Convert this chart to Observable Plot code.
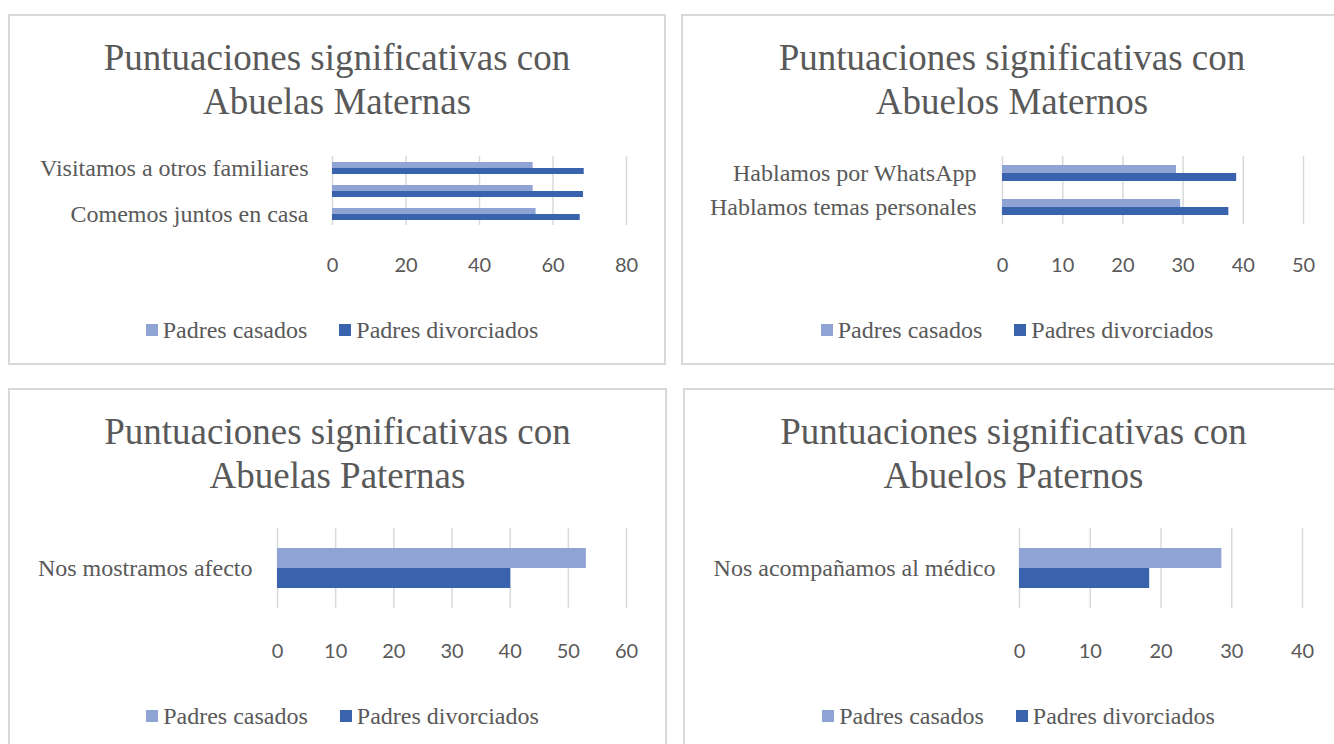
<!DOCTYPE html>
<html>
<head>
<meta charset="utf-8">
<script src="https://cdn.jsdelivr.net/npm/d3@7"></script>
<script src="https://cdn.jsdelivr.net/npm/@observablehq/plot@0.6"></script>
<style>
  html, body { margin: 0; padding: 0; background: #fff; }
  #root { position: relative; width: 1334px; height: 744px; overflow: hidden; background: #fff; }
  .panel { position: absolute; border: 2px solid #d9d9d9; box-sizing: border-box; background: #fff; }
  .title { position: absolute; left: 0; right: 0; text-align: center; font-family: "Liberation Serif", "Times New Roman", serif; font-size: 37px; line-height: 44px; color: #595959; }
  .legend { position: absolute; left: 10px; right: 0; display: flex; justify-content: center; align-items: center; font-family: "Liberation Serif", serif; font-size: 24px; color: #595959; }
  .legend .item { display: flex; align-items: center; margin: 0 16px; }
  .legend .sw { width: 12px; height: 12px; margin-right: 5px; }
  .panel svg { position: absolute; left: 0; overflow: visible; }
</style>
</head>
<body>
<div id="root"></div>
<script>
// ---- data ----
const seriesNames = ["Padres casados", "Padres divorciados"];
const seriesColors = ["#8fa3d5", "#3a63ad"];

const titles1 = ["Puntuaciones significativas con", "Abuelas Maternas"];
const cats1 = ["Visitamos a otros familiares", "", "Comemos juntos en casa"];
const casados1 = [54.6, 54.6, 55.4];
const divorciados1 = [68.5, 68.3, 67.4];
const ticks1 = [0, 20, 40, 60, 80];

const titles2 = ["Puntuaciones significativas con", "Abuelos Maternos"];
const cats2 = ["Hablamos por WhatsApp", "Hablamos temas personales"];
const casados2 = [28.9, 29.6];
const divorciados2 = [38.9, 37.6];
const ticks2 = [0, 10, 20, 30, 40, 50];

const titles3 = ["Puntuaciones significativas con", "Abuelas Paternas"];
const cats3 = ["Nos mostramos afecto"];
const casados3 = [53.1];
const divorciados3 = [40.1];
const ticks3 = [0, 10, 20, 30, 40, 50, 60];

const titles4 = ["Puntuaciones significativas con", "Abuelos Paternos"];
const cats4 = ["Nos acompañamos al médico"];
const casados4 = [28.6];
const divorciados4 = [18.4];
const ticks4 = [0, 10, 20, 30, 40];

// ---- layout (absolute page coords) ----
const layouts = [
  {left: 8,   top: 14,  width: 658, height: 351, x0: 332,  x1: 626,  plotTop: 155, plotBottom: 225, tickY: 264, legendY: 330, titleY: 34, labelPad: 24},
  {left: 681, top: 14,  width: 662, height: 351, x0: 1002, x1: 1303, plotTop: 155, plotBottom: 224, tickY: 264, legendY: 330, titleY: 34, labelPad: 26},
  {left: 8,   top: 388, width: 659, height: 380, x0: 277,  x1: 626,  plotTop: 528, plotBottom: 608, tickY: 650, legendY: 716, titleY: 408, labelPad: 25},
  {left: 683, top: 388, width: 661, height: 380, x0: 1019, x1: 1302, plotTop: 528, plotBottom: 608, tickY: 650, legendY: 716, titleY: 408, labelPad: 24}
];

const panels = [
  {titles: titles1, cats: cats1, vals: [casados1, divorciados1], ticks: ticks1},
  {titles: titles2, cats: cats2, vals: [casados2, divorciados2], ticks: ticks2},
  {titles: titles3, cats: cats3, vals: [casados3, divorciados3], ticks: ticks3},
  {titles: titles4, cats: cats4, vals: [casados4, divorciados4], ticks: ticks4}
];

const root = document.getElementById("root");

panels.forEach((p, i) => {
  const L = layouts[i];
  const div = document.createElement("div");
  div.className = "panel";
  Object.assign(div.style, {left: L.left + "px", top: L.top + "px", width: L.width + "px", height: L.height + "px"});
  root.appendChild(div);

  const t = document.createElement("div");
  t.className = "title";
  t.style.top = (L.titleY - L.top) + "px";
  t.innerHTML = p.titles.map(s => `<div>${s}</div>`).join("");
  div.appendChild(t);

  const data = [];
  p.cats.forEach((c, ci) => {
    seriesNames.forEach((s, si) => data.push({cat: c, series: s, value: p.vals[si][ci]}));
  });

  const marginTop = 5;
  const marginBottom = 60;
  const plotH = L.plotBottom - L.plotTop;
  const svgTop = L.plotTop - marginTop;

  const chart = Plot.plot({
    width: L.width - 4,
    height: plotH + marginTop + marginBottom,
    marginLeft: L.x0 - L.left - 2,
    marginRight: (L.left + L.width - 2) - L.x1,
    marginTop,
    marginBottom,
    style: {background: "transparent", overflow: "visible"},
    x: {domain: [0, p.ticks[p.ticks.length - 1]], axis: null, label: null},
    y: {domain: seriesNames, axis: null, paddingInner: 0, paddingOuter: 0.91},
    fy: {domain: p.cats, axis: null, padding: 0, label: null},
    color: {domain: seriesNames, range: seriesColors},
    marks: [
      Plot.gridX(p.ticks, {stroke: "#d9d9d9", strokeOpacity: 1, strokeWidth: 1.5}),
      Plot.barX(data, {fy: "cat", y: "series", x: "value", fill: "series"}),
      Plot.axisX(p.ticks, {tickSize: 0, tickPadding: L.tickY - L.plotBottom - 7, fontFamily: "Lato, 'Open Sans', sans-serif", fontSize: 20, fill: "#595959", label: null}),
      Plot.axisFy({anchor: "left", tickSize: 0, tickPadding: L.labelPad, fontFamily: "'Liberation Serif', serif", fontSize: 24, fill: "#595959", label: null})
    ]
  });
  chart.style.top = (svgTop - L.top - 2) + "px";
  chart.style.left = "0px";
  div.appendChild(chart);

  const lg = document.createElement("div");
  lg.className = "legend";
  lg.style.top = (L.legendY - L.top - 2 - 13) + "px";
  lg.style.height = "26px";
  lg.innerHTML = seriesNames.map((s, si) => `<div class="item"><div class="sw" style="background:${seriesColors[si]}"></div><span>${s}</span></div>`).join("");
  div.appendChild(lg);
});
</script>
</body>
</html>
